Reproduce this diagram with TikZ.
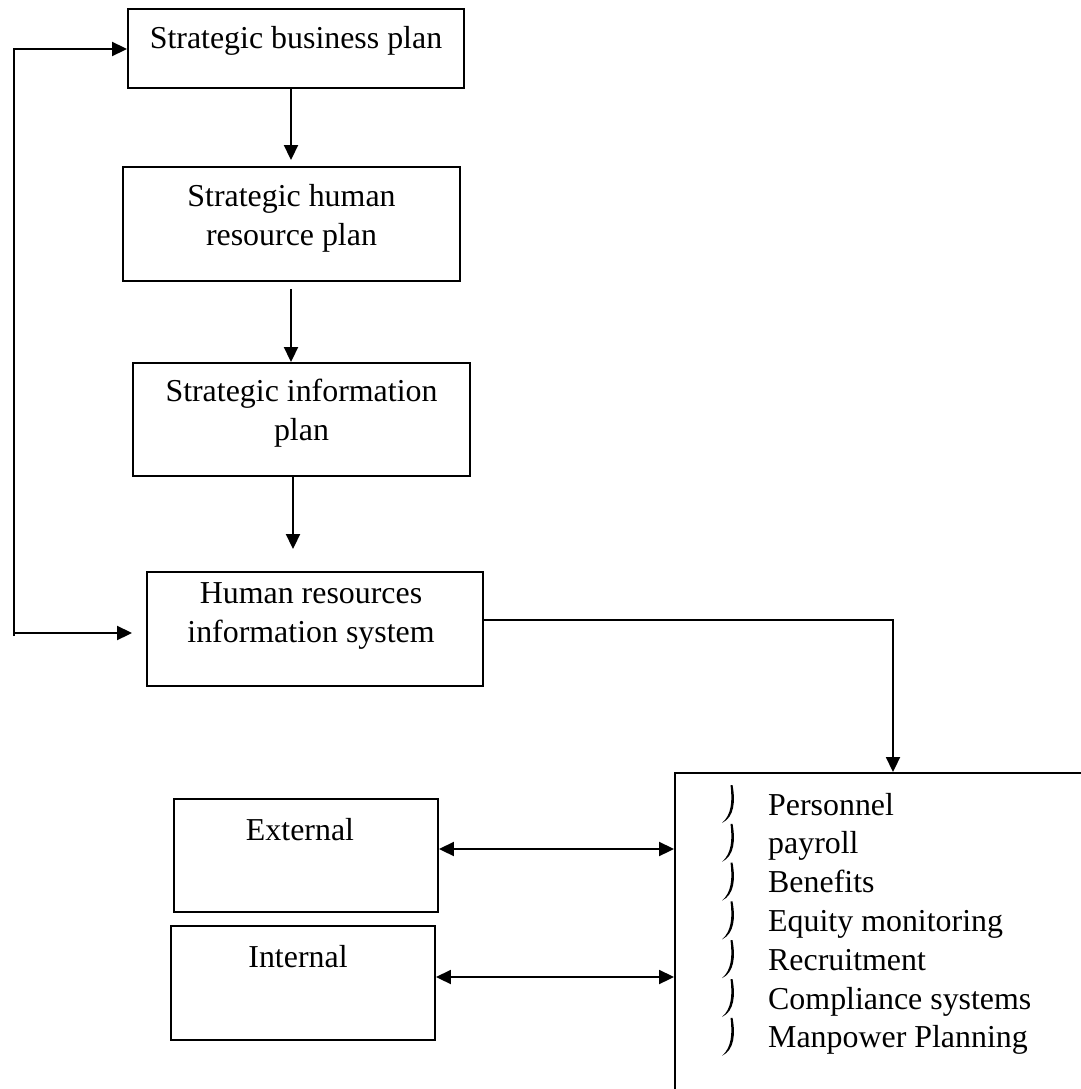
\documentclass[tikz,border=0pt]{standalone}
\usepackage{fontspec}
\setmainfont{Liberation Serif}
\usetikzlibrary{arrows.meta}
\begin{document}
\begin{tikzpicture}[x=1pt,y=-1pt,
  box/.style 2 args={draw, line width=1.9pt, rectangle, inner sep=0pt,
    minimum width=#1pt, minimum height=#2pt},
  txt/.style={font=\fontsize{31.9}{38.6}\selectfont, inner sep=0pt,
    align=center, anchor=base},
  arr/.style={line width=1.9pt, -{Triangle[length=15pt,width=14pt]}},
  arr2/.style={line width=1.9pt,
    {Triangle[length=15pt,width=14pt]}-{Triangle[length=15pt,width=14pt]}},
  bulletmark/.pic={
    \fill (1.5,-30) .. controls (4.5,-14) and (3.5,2) .. (-9,8)
          .. controls (0.5,0) and (1.5,-14) .. (-0.5,-30) -- cycle;}
]
\useasboundingbox (0,0) rectangle (1080,1089);

% planning chain
\node[box={336}{79}]  (sbp)  at (296,48.5)   {};
\node[box={337}{114}] (shrp) at (291.5,224)  {};
\node[box={337}{113}] (sip)  at (301.5,419.5) {};
\node[box={336}{114}] (hris) at (315,629)    {};

% two-line labels sit on the baseline of their last line
\node[txt] (sbp-t)  at (296,49)    {Strategic business plan};
\node[txt] (shrp-t) at (291.5,245) {Strategic human\\resource plan};
\node[txt] (sip-t)  at (301.5,440) {Strategic information\\plan};
\node[txt] (hris-t) at (311,642)   {Human resources\\information system};

% sources
\node[box={264}{113}] (ext) at (306,855.5) {};
\node[box={264}{114}] (int) at (303,983)   {};
\node[txt] (ext-t) at (300,840) {External};
\node[txt] (int-t) at (298,967) {Internal};

% system functions (box runs past the page edge)
\node[box={435}{347}] (rbox) at (892.5,946.5) {};
\foreach \t [count=\i from 0] in {Personnel, payroll, Benefits,
    Equity monitoring, Recruitment, Compliance systems, Manpower Planning}{
  \node[txt, anchor=base west] (item\i) at (768,{815+38.8*\i}) {\t};
  \pic at (731,{815+38.8*\i}) {bulletmark};
}

% connectors
\coordinate (c1) at (291,0);
\coordinate (c2) at (293,0);
\draw[arr, shorten >=6pt] (sbp.south -| c1) -- (shrp.north -| c1);
\draw[arr, shorten <=7pt] (shrp.south -| c1) -- (sip.north -| c1);
\draw[arr, shorten >=22pt] (sip.south -| c2) -- (hris.north -| c2);

\coordinate (lt) at (14,49);
\coordinate (lb) at (14,636);
\coordinate (lm) at (14,633);
\draw[arr] (lb) -- (lt) -- (lt -| sbp.west);
\draw[arr, shorten >=14pt] (lm) -- (lm -| hris.west);

\coordinate (tr) at (893,620);
\draw[arr] (tr -| hris.east) -- (tr) -- (tr |- rbox.north);

\coordinate (e1) at (0,849);
\coordinate (i1) at (0,977);
\draw[arr2] (e1 -| ext.east) -- (e1 -| rbox.west);
\draw[arr2] (i1 -| int.east) -- (i1 -| rbox.west);
\end{tikzpicture}
\end{document}
